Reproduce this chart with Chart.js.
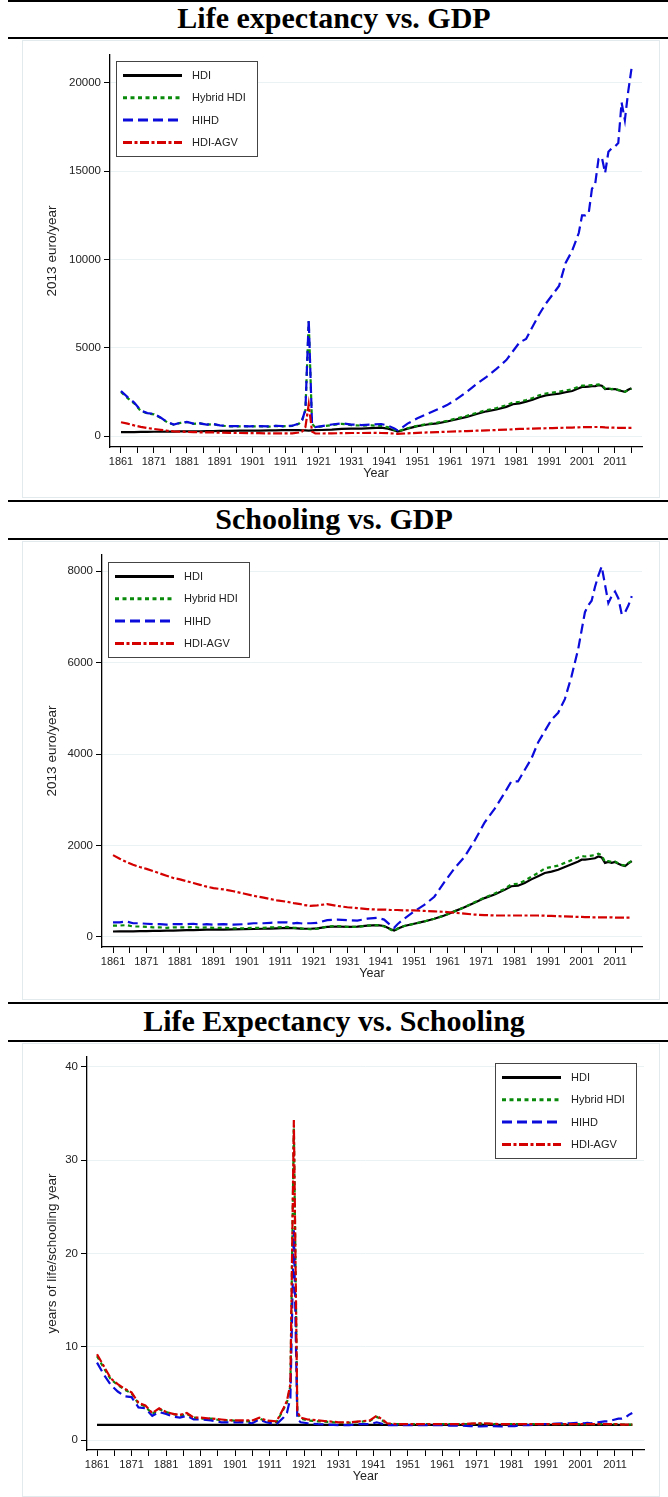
<!DOCTYPE html>
<html>
<head>
<meta charset="utf-8">
<script src="https://cdn.jsdelivr.net/npm/chart.js@4.4.1/dist/chart.umd.min.js"></script>
<style>
  html, body { margin: 0; padding: 0; background: #fff; }
  body { width: 668px; height: 1497px; position: relative; overflow: hidden; }
  .rule { position: absolute; left: 8px; width: 660px; height: 2px; background: #000; }
  .title { position: absolute; left: 0; width: 668px; height: 36px; line-height: 36px; text-align: center;
           font: bold 30px "Liberation Serif", "Times New Roman", serif; color: #000; }
  .frame { position: absolute; left: 22px; width: 638px; border: 1px solid #e3eaed; box-sizing: border-box; }
  canvas { position: absolute; left: 0; }
</style>
</head>
<body>
<div class="rule" style="top:0px"></div>
<div class="title" style="top:1px">Life expectancy vs. GDP</div>
<div class="rule" style="top:37px"></div>
<div class="frame" style="top:40px;height:458px"></div>
<canvas id="leGdp" width="668" height="458" style="top:40px"></canvas>

<div class="rule" style="top:500px"></div>
<div class="title" style="top:502px">Schooling vs. GDP</div>
<div class="rule" style="top:538px"></div>
<div class="frame" style="top:541px;height:459px"></div>
<canvas id="schGdp" width="668" height="460" style="top:540px"></canvas>

<div class="rule" style="top:1002px"></div>
<div class="title" style="top:1004px">Life Expectancy vs. Schooling</div>
<div class="rule" style="top:1040px"></div>
<div class="frame" style="top:1043px;height:454px"></div>
<canvas id="leSch" width="668" height="455" style="top:1042px"></canvas>

<script>
// ---- data ----
const years = [
  1861, 1863, 1865, 1867, 1869, 1871, 1873, 1875, 1877, 1879,
  1881, 1883, 1885, 1887, 1889, 1891, 1894, 1897, 1900, 1903,
  1906, 1908, 1910, 1913, 1915, 1916, 1917, 1918, 1919, 1920,
  1922, 1925, 1928, 1931, 1934, 1937, 1940, 1942, 1944, 1945,
  1946, 1948, 1951, 1954, 1957, 1960, 1963, 1966, 1969, 1972,
  1975, 1978, 1980, 1982, 1984, 1986, 1988, 1990, 1992, 1994,
  1996, 1998, 2000, 2001, 2002, 2003, 2004, 2005, 2006, 2007,
  2008, 2009, 2010, 2011, 2012, 2013, 2014, 2015, 2016
];

const seriesNames = ['HDI', 'Hybrid HDI', 'HIHD', 'HDI-AGV'];

const xTickYears = [1861, 1866, 1871, 1876, 1881, 1886, 1891, 1896, 1901, 1906, 1911, 1916,
  1921, 1926, 1931, 1936, 1941, 1946, 1951, 1956, 1961, 1966, 1971, 1976, 1981, 1986,
  1991, 1996, 2001, 2006, 2011, 2016];
const xLabelYears = [1861, 1871, 1881, 1891, 1901, 1911, 1921, 1931, 1941, 1951,
  1961, 1971, 1981, 1991, 2001, 2011];

// Life expectancy vs. GDP (2013 euro/year)
const leGdpTicks = [0, 5000, 10000, 15000, 20000];
const leGdpHdi = [
  220, 220, 220, 230, 230, 240, 240, 250, 250, 260,
  260, 270, 270, 280, 280, 290, 290, 300, 300, 310,
  320, 320, 330, 340, 330, 320, 320, 300, 320, 330,
  340, 360, 400, 420, 420, 450, 470, 420, 320, 250,
  300, 420, 560, 650, 720, 820, 950, 1080, 1250, 1400,
  1500, 1650, 1800, 1850, 1950, 2050, 2200, 2300, 2350, 2400,
  2480, 2550, 2700, 2780, 2780, 2800, 2820, 2830, 2880, 2850,
  2660, 2680, 2650, 2660, 2600, 2550, 2500, 2620, 2700
];
const leGdpHybrid = [
  2500, 2150, 1850, 1420, 1280, 1230, 1030, 780, 640, 740,
  790, 690, 710, 640, 670, 590, 550, 550, 540, 550,
  530, 570, 550, 570, 690, 900, 1450, 6500, 700, 490,
  540, 620, 690, 620, 590, 600, 580, 500, 350, 260,
  320, 440, 580, 680, 760, 860, 1000, 1140, 1310, 1470,
  1580, 1740, 1890, 1940, 2040, 2150, 2310, 2410, 2460, 2510,
  2580, 2650, 2790, 2850, 2850, 2870, 2880, 2890, 2920, 2880,
  2680, 2700, 2660, 2670, 2610, 2560, 2500, 2600, 2680
];
const leGdpHihd = [
  2550, 2200, 1900, 1450, 1300, 1250, 1050, 800, 650, 750,
  800, 700, 720, 650, 680, 600, 560, 560, 550, 560,
  540, 580, 560, 580, 700, 900, 1500, 6600, 720, 500,
  560, 650, 720, 650, 620, 650, 680, 600, 420, 320,
  420, 700, 1000, 1250, 1500, 1750, 2100, 2500, 2950, 3350,
  3800, 4300, 4800, 5300, 5500, 6200, 6900, 7500, 8000, 8500,
  9800, 10500, 11500, 12500, 12500, 12600, 14000, 14300, 15700, 15800,
  14900, 16100, 16300, 16400, 16600, 18900, 17900, 19500, 20800
];
const leGdpAgv = [
  780, 700, 600, 520, 450, 400, 350, 300, 260, 250,
  230, 220, 210, 200, 200, 190, 180, 170, 160, 160,
  150, 150, 150, 150, 200, 250, 500, 1800, 250, 150,
  140, 150, 160, 170, 170, 180, 170, 160, 140, 120,
  130, 150, 180, 200, 220, 240, 260, 280, 300, 320,
  340, 360, 380, 400, 410, 420, 430, 440, 450, 460,
  470, 480, 490, 500, 500, 500, 505, 510, 510, 505,
  490, 480, 470, 470, 465, 460, 460, 460, 460
];

// Schooling vs. GDP (2013 euro/year)
const schGdpTicks = [0, 2000, 4000, 6000, 8000];
const schGdpHdi = [
  120, 125, 125, 125, 130, 130, 135, 135, 140, 140,
  145, 150, 150, 155, 160, 160, 160, 165, 170, 175,
  180, 185, 190, 200, 195, 190, 185, 180, 180, 180,
  190, 220, 230, 220, 225, 250, 260, 240, 170, 140,
  180, 240, 290, 340, 400, 470, 560, 650, 750, 850,
  930, 1030, 1110, 1120, 1180, 1260, 1330, 1400, 1430, 1470,
  1530, 1590, 1650, 1690, 1690, 1700, 1710, 1720, 1760, 1740,
  1620, 1640, 1620, 1640, 1600, 1570, 1550, 1610, 1660
];
const schGdpHybrid = [
  250, 250, 260, 230, 230, 220, 210, 210, 200, 210,
  210, 210, 220, 200, 210, 200, 200, 190, 190, 200,
  200, 210, 210, 220, 200, 200, 190, 180, 180, 170,
  180, 230, 240, 220, 220, 250, 260, 230, 160, 130,
  180, 240, 290, 340, 400, 470, 560, 650, 760, 860,
  950, 1050, 1150, 1160, 1230, 1320, 1400, 1500, 1530, 1560,
  1620, 1680, 1740, 1770, 1760, 1770, 1780, 1790, 1820, 1790,
  1640, 1660, 1640, 1650, 1610, 1580, 1560, 1620, 1660
];
const schGdpHihd = [
  320, 320, 340, 300, 300, 290, 280, 280, 270, 280,
  280, 280, 290, 270, 280, 270, 280, 270, 280, 300,
  300, 310, 320, 320, 300, 310, 300, 290, 300, 300,
  310, 370, 380, 370, 360, 400, 420, 380, 250, 200,
  280, 400, 560, 700, 880, 1200, 1500, 1750, 2100, 2500,
  2800, 3150, 3400, 3400, 3650, 3900, 4250, 4500, 4750, 4900,
  5200, 5700, 6300, 6700, 7100, 7250, 7350, 7650, 7900, 8100,
  7700, 7300, 7450, 7550, 7400, 7050, 7100, 7250, 7450
];
const schGdpAgv = [
  1790, 1710, 1640, 1580, 1530, 1490, 1440, 1390, 1340, 1290,
  1260, 1220, 1180, 1140, 1100, 1070, 1040, 1000, 950, 900,
  860, 830, 800, 770, 740, 730, 720, 700, 690, 680,
  690, 720, 680, 650, 630, 610, 600, 600, 590, 590,
  590, 580, 580, 570, 560, 550, 530, 510, 490, 480,
  470, 470, 470, 470, 470, 470, 470, 465, 460, 455,
  450, 445, 440, 440, 435, 435, 430, 430, 430, 430,
  430, 430, 430, 425, 425, 425, 425, 425, 425
];

// Life expectancy vs. Schooling (years of life/schooling year)
const leSchTicks = [0, 10, 20, 30, 40];
const leSchHdi = [
  1.62, 1.62, 1.62, 1.62, 1.62, 1.62, 1.62, 1.62, 1.62, 1.62,
  1.62, 1.62, 1.62, 1.62, 1.62, 1.62, 1.62, 1.62, 1.62, 1.62,
  1.62, 1.62, 1.62, 1.62, 1.62, 1.62, 1.62, 1.62, 1.62, 1.62,
  1.62, 1.62, 1.62, 1.62, 1.62, 1.62, 1.62, 1.62, 1.62, 1.62,
  1.62, 1.62, 1.62, 1.62, 1.62, 1.62, 1.62, 1.62, 1.62, 1.62,
  1.62, 1.62, 1.62, 1.62, 1.62, 1.62, 1.62, 1.62, 1.62, 1.62,
  1.62, 1.62, 1.62, 1.62, 1.62, 1.62, 1.62, 1.62, 1.62, 1.62,
  1.62, 1.62, 1.62, 1.62, 1.62, 1.62, 1.62, 1.62, 1.62
];
const leSchHybrid = [
  9.0, 7.7, 6.5, 5.9, 5.4, 5.0, 3.9, 3.6, 2.8, 3.3,
  3.0, 2.8, 2.6, 2.8, 2.4, 2.3, 2.3, 2.1, 2.1, 2.0,
  2.0, 2.3, 2.0, 1.9, 3.3, 4.0, 5.8, 33.5, 2.9, 2.3,
  2.1, 2.0, 1.95, 1.85, 1.85, 1.95, 2.05, 2.5, 2.0, 1.75,
  1.72, 1.7, 1.7, 1.7, 1.7, 1.7, 1.7, 1.7, 1.72, 1.75,
  1.72, 1.7, 1.7, 1.7, 1.7, 1.7, 1.7, 1.7, 1.7, 1.7,
  1.7, 1.7, 1.7, 1.7, 1.7, 1.7, 1.7, 1.7, 1.7, 1.7,
  1.7, 1.7, 1.7, 1.7, 1.7, 1.65, 1.65, 1.65, 1.65
];
const leSchHihd = [
  8.3, 7.0, 5.9, 5.2, 4.7, 4.6, 3.5, 3.4, 2.6, 3.0,
  2.8, 2.5, 2.4, 2.6, 2.2, 2.2, 2.1, 1.9, 1.9, 1.9,
  1.8, 2.2, 1.9, 1.7, 2.4, 2.9, 4.5, 22.5, 2.2, 1.9,
  1.8, 1.7, 1.65, 1.6, 1.6, 1.7, 1.7, 1.9, 1.7, 1.6,
  1.6, 1.6, 1.6, 1.6, 1.6, 1.6, 1.55, 1.55, 1.5, 1.45,
  1.5, 1.45, 1.5, 1.5, 1.6, 1.6, 1.65, 1.7, 1.7, 1.75,
  1.8, 1.8, 1.85, 1.85, 1.8, 1.85, 1.8, 1.85, 1.9, 1.95,
  2.0, 2.0, 2.1, 2.2, 2.3, 2.3, 2.4, 2.7, 2.9
];
const leSchAgv = [
  9.2, 7.9, 6.6, 6.0, 5.5, 5.1, 4.0, 3.7, 2.9, 3.4,
  3.0, 2.8, 2.7, 2.9, 2.4, 2.4, 2.3, 2.2, 2.1, 2.1,
  2.1, 2.4, 2.1, 2.0, 3.4, 4.2, 6.0, 34.3, 3.0, 2.4,
  2.2, 2.1, 2.0, 1.9, 1.9, 2.0, 2.1, 2.6, 2.1, 1.8,
  1.75, 1.7, 1.7, 1.7, 1.7, 1.7, 1.7, 1.7, 1.75, 1.8,
  1.75, 1.7, 1.7, 1.7, 1.7, 1.7, 1.7, 1.7, 1.7, 1.7,
  1.7, 1.7, 1.7, 1.7, 1.7, 1.7, 1.7, 1.7, 1.7, 1.7,
  1.7, 1.7, 1.7, 1.7, 1.7, 1.65, 1.65, 1.65, 1.65
];

// ---- styling ----
const SANS = '"Liberation Sans", Arial, Helvetica, sans-serif';
const lineStyles = [
  { color: '#000000', dash: [] },
  { color: '#0a8a0a', dash: [4, 3.5] },
  { color: '#0b0bdc', dash: [10, 5] },
  { color: '#d40000', dash: [9, 2.5, 3, 2.5] }
];

// legend drawn inside the plot, Stata style
const legendBox = {
  id: 'legendBox',
  afterDatasetsDraw(chart, args, opts) {
    const ctx = chart.ctx, a = chart.chartArea;
    const w = 142, h = 96;
    const x = opts.side === 'right' ? a.right - opts.dx - w : a.left + opts.dx;
    const y = a.top + opts.dy;
    ctx.save();
    ctx.fillStyle = '#fff';
    ctx.fillRect(x, y, w, h);
    ctx.strokeStyle = '#444';
    ctx.lineWidth = 1;
    ctx.strokeRect(x + 0.5, y + 0.5, w - 1, h - 1);
    ctx.font = '11px ' + SANS;
    ctx.textBaseline = 'middle';
    chart.data.datasets.forEach((ds, i) => {
      const ly = y + 14.5 + i * 22.3;
      ctx.beginPath();
      ctx.setLineDash(ds.borderDash);
      ctx.strokeStyle = ds.borderColor;
      ctx.lineWidth = 3;
      ctx.moveTo(x + 7, ly);
      ctx.lineTo(x + 66, ly);
      ctx.stroke();
      ctx.setLineDash([]);
      ctx.fillStyle = '#222';
      ctx.fillText(ds.label, x + 76, ly + 0.5);
    });
    ctx.restore();
  }
};

function makeChart(id, spec) {
  const canvas = document.getElementById(id);
  const H = canvas.height;
  const yTitleSize = 13.5;
  const yTitleLH = yTitleSize * 1.2;
  const xTitleLH = 12.5 * 1.2;
  const padL = 40;
  const xAxisH = 27 + xTitleLH / 2;

  const datasets = spec.series.map((vals, i) => ({
    label: seriesNames[i],
    data: years.map((yr, k) => ({ x: yr, y: vals[k] })),
    borderColor: lineStyles[i].color,
    borderDash: lineStyles[i].dash,
    borderWidth: 2.2,
    borderCapStyle: 'butt',
    pointRadius: 0,
    tension: 0,
    fill: false,
    order: 4 - i
  }));

  return new Chart(canvas, {
    type: 'line',
    data: { datasets },
    options: {
      responsive: false,
      animation: false,
      devicePixelRatio: 1,
      layout: {
        padding: {
          left: padL,
          right: canvas.width - spec.area.right,
          top: spec.area.top,
          bottom: H - spec.area.bottom - xAxisH
        }
      },
      plugins: {
        legend: { display: false },
        tooltip: { enabled: false },
        legendBox: spec.legend
      },
      scales: {
        x: {
          type: 'linear',
          min: spec.xMin,
          max: spec.xMax,
          afterBuildTicks: s => { s.ticks = xTickYears.map(v => ({ value: v })); },
          afterFit: s => { s.height = xAxisH; },
          ticks: {
            autoSkip: false,
            maxRotation: 0,
            padding: 2.4,
            color: '#222',
            font: { family: SANS, size: 11 },
            callback: v => xLabelYears.includes(v) ? String(v) : ''
          },
          grid: { drawOnChartArea: false, drawTicks: true, tickLength: 6, tickColor: '#000', tickWidth: 1 },
          border: { display: true, color: '#000', width: 1.3 },
          title: { display: true, text: 'Year', color: '#222', padding: 0, font: { family: SANS, size: 12.5 } }
        },
        y: {
          type: 'linear',
          min: spec.yMin,
          max: spec.yMax,
          afterBuildTicks: s => { s.ticks = spec.yTicks.map(v => ({ value: v })); },
          afterFit: s => { s.width = spec.area.left - padL; },
          ticks: {
            padding: 3,
            color: '#222',
            font: { family: SANS, size: 11.5 },
            callback: v => String(v)
          },
          grid: { color: '#eaf2f3', lineWidth: 1, drawTicks: true, tickLength: 6, tickColor: '#000', tickWidth: 1 },
          border: { display: true, color: '#000', width: 1.3 },
          title: {
            display: true, text: spec.yTitle, color: '#222',
            padding: { top: 52 - padL - yTitleLH / 2, bottom: 0 },
            font: { family: SANS, size: yTitleSize }
          }
        }
      }
    },
    plugins: [legendBox]
  });
}

makeChart('leGdp', {
  series: [leGdpHdi, leGdpHybrid, leGdpHihd, leGdpAgv],
  area: { left: 110, right: 642, top: 15, bottom: 407 },
  xMin: 1857.66, xMax: 2019.2,
  yMin: -623, yMax: 21586, yTicks: leGdpTicks,
  yTitle: '2013 euro/year',
  legend: { side: 'left', dx: 6, dy: 6 }
});

makeChart('schGdp', {
  series: [schGdpHdi, schGdpHybrid, schGdpHihd, schGdpAgv],
  area: { left: 102, right: 642, top: 15, bottom: 407 },
  xMin: 1857.71, xMax: 2019.05,
  yMin: -218.6, yMax: 8350, yTicks: schGdpTicks,
  yTitle: '2013 euro/year',
  legend: { side: 'left', dx: 6, dy: 7 }
});

makeChart('leSch', {
  series: [leSchHdi, leSchHybrid, leSchHihd, leSchAgv],
  area: { left: 87, right: 644, top: 15, bottom: 408 },
  xMin: 1858.1, xMax: 2019.4,
  yMin: -1.07, yMax: 41.07, yTicks: leSchTicks,
  yTitle: 'years of life/schooling year',
  legend: { side: 'right', dx: 7, dy: 6 }
});
</script>
</body>
</html>
